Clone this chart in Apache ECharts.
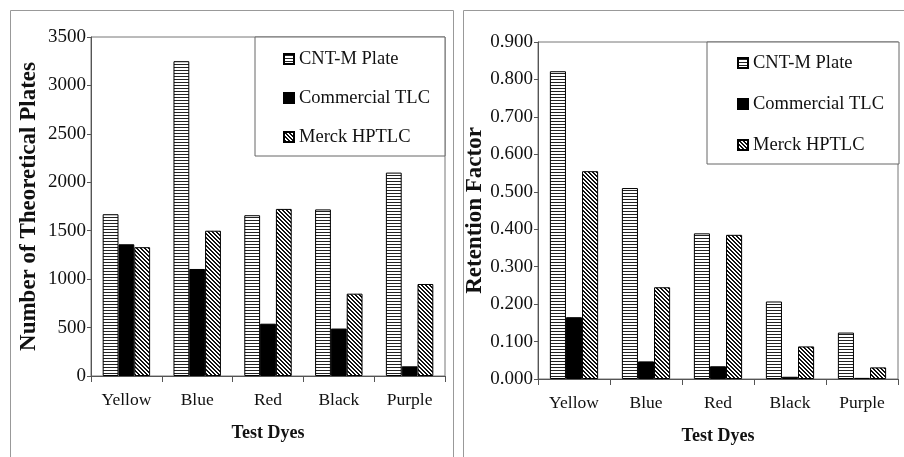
<!DOCTYPE html>
<html>
<head>
<meta charset="utf-8">
<script src="https://cdn.jsdelivr.net/npm/echarts@6/dist/echarts.min.js"></script>
<style>
html,body{margin:0;padding:0;background:#fff;}
#chart{width:904px;height:457px;}
</style>
</head>
<body>
<div id="chart"></div>
<script>
const categories = ['Yellow', 'Blue', 'Red', 'Black', 'Purple'];
const seriesNames = ['CNT-M Plate', 'Commercial TLC', 'Merck HPTLC'];
const platesCNT = [1670, 3250, 1660, 1720, 2100];
const platesCommercial = [1360, 1105, 540, 490, 100];
const platesMerck = [1330, 1500, 1725, 850, 950];
const rfCNT = [0.822, 0.510, 0.389, 0.207, 0.124];
const rfCommercial = [0.165, 0.047, 0.034, 0.006, 0.003];
const rfMerck = [0.555, 0.245, 0.385, 0.087, 0.031];
const platesAxis = { min: 0, max: 3500, interval: 500 };
const rfAxis = { min: 0, max: 0.9, interval: 0.1 };
const xTitle = 'Test Dyes';
const leftTitle = 'Number of Theoretical Plates';
const rightTitle = 'Retention Factor';

const FONT = "'Liberation Serif', 'Times New Roman', serif";

function makeHorizontal() {
  const c = document.createElement('canvas');
  c.width = 4; c.height = 3;
  const g = c.getContext('2d');
  g.fillStyle = '#fff'; g.fillRect(0, 0, 4, 3);
  g.fillStyle = '#222'; g.fillRect(0, 1, 4, 1);
  return c;
}
function makeDiagonal() {
  const c = document.createElement('canvas');
  c.width = 4; c.height = 4;
  const g = c.getContext('2d');
  g.fillStyle = '#fff'; g.fillRect(0, 0, 4, 4);
  g.fillStyle = '#111';
  for (let i = 0; i < 4; i++) {
    g.fillRect(i, i, 1, 1);
    g.fillRect((i + 1) % 4, i, 1, 1);
  }
  return c;
}
const horizPattern = { image: makeHorizontal(), repeat: 'repeat' };
const diagPattern = { image: makeDiagonal(), repeat: 'repeat' };
const fills = [horizPattern, '#000', diagPattern];

const chart = echarts.init(document.getElementById('chart'), null, { renderer: 'canvas' });

function xAxisCfg(gridIndex) {
  return {
    type: 'category', gridIndex: gridIndex, data: categories,
    name: xTitle, nameLocation: 'middle', nameGap: 48,
    nameTextStyle: { fontFamily: FONT, fontSize: 18, fontWeight: 'bold', color: '#111' },
    axisLine: { lineStyle: { color: '#555', width: 1 } },
    axisTick: { show: true, length: 6, lineStyle: { color: '#555' } },
    axisLabel: { fontFamily: FONT, fontSize: 17.5, color: '#111', margin: 15 }
  };
}
function yAxisCfg(gridIndex, axis, title, gap, fmt) {
  return {
    type: 'value', gridIndex: gridIndex, min: axis.min, max: axis.max, interval: axis.interval,
    name: title, nameLocation: 'middle', nameGap: gap, nameRotate: 90,
    nameTextStyle: { fontFamily: FONT, fontSize: 23, fontWeight: 'bold', color: '#111' },
    axisLine: { show: true, lineStyle: { color: '#555', width: 1 } },
    axisTick: { show: true, length: 4, lineStyle: { color: '#555' } },
    splitLine: { show: false },
    axisLabel: { fontFamily: FONT, fontSize: 19, color: '#111', margin: 5, formatter: fmt }
  };
}
function barSeries(name, data, idx, axisIndex) {
  return {
    type: 'bar', name: name, data: data,
    xAxisIndex: axisIndex, yAxisIndex: axisIndex,
    barGap: '0%', barCategoryGap: '33%',
    itemStyle: { color: fills[idx], borderColor: '#000', borderWidth: 1 },
    emphasis: { disabled: true },
    animation: false
  };
}
function legendCfg(left, top, padding, gap) {
  return {
    orient: 'vertical', left: left, top: top, data: seriesNames,
    icon: 'rect', itemWidth: 10, itemHeight: 10, itemGap: gap, itemTextGap: 3,
    padding: padding, borderColor: '#666', borderWidth: 1, backgroundColor: '#fff',
    selectedMode: false,
    textStyle: { fontFamily: FONT, fontSize: 18.5, color: '#111', lineHeight: 20 }
  };
}

chart.setOption({
  backgroundColor: '#fff',
  animation: false,
  graphic: [
    { type: 'rect', shape: { x: 10.5, y: 10.5, width: 443, height: 460 }, style: { fill: 'none', stroke: '#999', lineWidth: 1 }, silent: true },
    { type: 'rect', shape: { x: 463.5, y: 10.5, width: 460, height: 460 }, style: { fill: 'none', stroke: '#999', lineWidth: 1 }, silent: true }
  ],
  grid: [
    { left: 91, top: 37, right: 459, bottom: 81, show: true, borderColor: '#777', borderWidth: 1, backgroundColor: 'transparent' },
    { left: 538, top: 42, right: 6, bottom: 78, show: true, borderColor: '#777', borderWidth: 1, backgroundColor: 'transparent' }
  ],
  legend: [
    legendCfg(255, 37, [12, 15, 9, 28], 19),
    legendCfg(707, 42, [11, 15, 9, 30], 21)
  ],
  xAxis: [xAxisCfg(0), xAxisCfg(1)],
  yAxis: [
    yAxisCfg(0, platesAxis, leftTitle, 50, function (v) { return String(v); }),
    yAxisCfg(1, rfAxis, rightTitle, 46, function (v) { return v.toFixed(3); })
  ],
  series: [
    barSeries(seriesNames[0], platesCNT, 0, 0),
    barSeries(seriesNames[1], platesCommercial, 1, 0),
    barSeries(seriesNames[2], platesMerck, 2, 0),
    barSeries(seriesNames[0], rfCNT, 0, 1),
    barSeries(seriesNames[1], rfCommercial, 1, 1),
    barSeries(seriesNames[2], rfMerck, 2, 1)
  ]
});
</script>
</body>
</html>
